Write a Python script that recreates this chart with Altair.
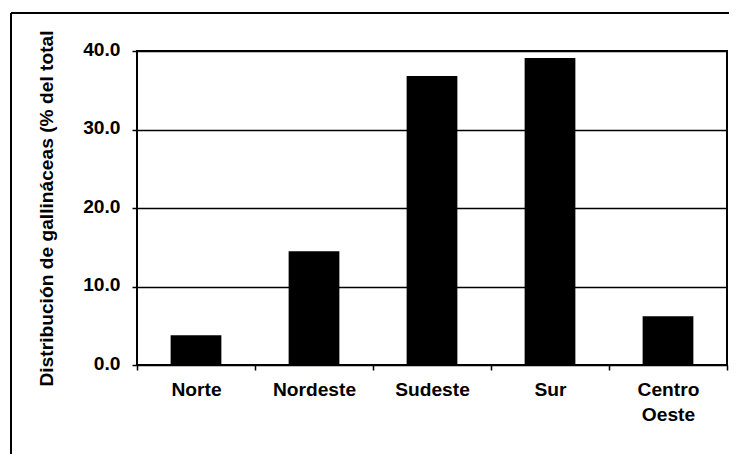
import altair as alt
import pandas as pd

regions = ["Norte", "Nordeste", "Sudeste", "Sur", "Centro Oeste"]
shares = [3.8, 14.5, 36.8, 39.1, 6.2]
y_ticks = [0, 10, 20, 30, 40]
y_title = "Distribución de gallináceas (% del total"

df = pd.DataFrame({"region": regions, "share": shares})

W, H = 590, 314
PAD = {"left": 129, "top": 43, "right": 2, "bottom": 89}
FONT = "Liberation Sans"
FS = 19.2

bars = alt.Chart(df).mark_bar(color="black", width=alt.RelativeBandSize(0.43)).encode(
    x=alt.X(
        "region:N",
        sort=regions,
        scale=alt.Scale(paddingInner=0, paddingOuter=0),
        axis=alt.Axis(
            title=None, labelAngle=0, tickBand="extent", domain=False,
            ticks=True, tickSize=5, tickColor="black", tickWidth=1.5,
            labelFont=FONT, labelFontSize=FS, labelFontWeight="bold",
            labelColor="black", labelPadding=10,
            labelExpr="isValid(datum.value) ? split(datum.value, ' ') : ''",
            labelLineHeight=25,
        ),
    ),
    y=alt.Y(
        "share:Q",
        scale=alt.Scale(domain=[0, 40], nice=False),
        axis=alt.Axis(
            title=y_title, values=y_ticks, format=".1f",
            grid=True, gridColor="black", gridWidth=1.5, gridOpacity=1,
            domain=False, tickSize=5, tickColor="black", tickWidth=1.5,
            labelFont=FONT, labelFontSize=FS, labelFontWeight="bold",
            labelColor="black", labelPadding=12, labelOffset=-2,
            titleFont=FONT, titleFontSize=FS, titleFontWeight="bold",
            titleColor="black", titleAngle=270, titleX=-91, titleY=H / 2,
            titleAlign="center", titleBaseline="middle",
        ),
    ),
)

dummy = pd.DataFrame({"k": [0]})
frame_top = alt.Chart(dummy).mark_rule(color="black", strokeWidth=2).encode(
    x=alt.value(-126), x2=alt.value(W + PAD["right"]), y=alt.value(-38)
)
frame_left = alt.Chart(dummy).mark_rule(color="black", strokeWidth=2).encode(
    x=alt.value(-126), y=alt.value(-38), y2=alt.value(H + PAD["bottom"])
)

chart = alt.layer(bars, frame_top, frame_left).properties(
    width=W,
    height=H,
    autosize=alt.AutoSizeParams(type="none"),
    padding=PAD,
).configure_view(stroke="black", strokeWidth=2)

chart.save("out.html", embed_options={"renderer": "svg", "actions": False})
